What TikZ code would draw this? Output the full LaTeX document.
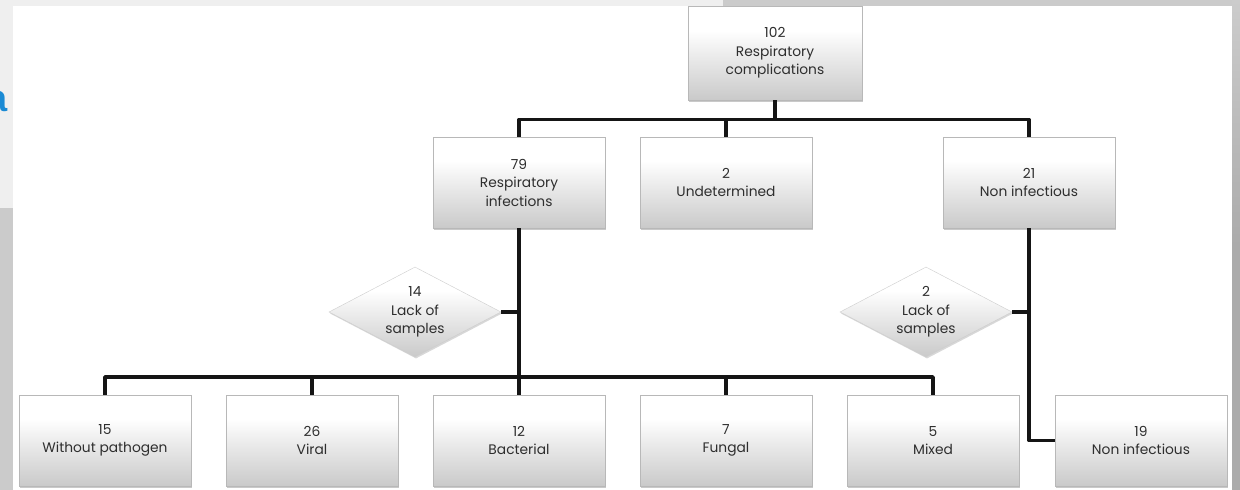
\documentclass[tikz,border=0pt]{standalone}
\usepackage{fontspec}
\setmainfont{Poppins}
\newfontfamily\labelfont{Liberation Sans}
\usetikzlibrary{shapes.geometric,shadows}
\definecolor{txt}{HTML}{2E2E2E}
\definecolor{bord}{HTML}{B8B8B8}
\definecolor{lightstrip}{HTML}{EFEFEF}
\definecolor{darkstrip}{HTML}{CBCBCB}
\definecolor{rightstrip}{HTML}{ABABAB}
\definecolor{bluea}{HTML}{1A8AD4}
\definecolor{linec}{HTML}{151515}
\pgfdeclareverticalshading{boxshade}{100bp}{color(0bp)=(black!26); color(25bp)=(black!21); color(50bp)=(black!7); color(62bp)=(white); color(100bp)=(white)}
\tikzset{
  boxnode/.style={rectangle, draw=bord, line width=0.6pt, shading=boxshade,
    minimum width=172pt, minimum height=91pt, inner sep=0pt, align=center,
    text=txt, font=\fontsize{13.8}{18.5}\selectfont,
    drop shadow={shadow xshift=1.2pt, shadow yshift=-1.8pt, opacity=0.35, fill=black!60}},
  diamnode/.style={diamond, draw=bord!70, line width=0.4pt, shading=boxshade,
    shape aspect=1.9, minimum width=172pt, minimum height=90pt, inner sep=0pt, align=center,
    text=txt, font=\fontsize{13.8}{18.5}\selectfont,
    drop shadow={shadow xshift=1pt, shadow yshift=-1.5pt, opacity=0.25, fill=black!60}},
  conn/.style={draw=linec, line width=3.6pt, line join=round}
}
\begin{document}
\begin{tikzpicture}[x=1pt,y=-1pt]
\useasboundingbox (0,0) rectangle (1240,490);
% background
\fill[white] (0,0) rectangle (1240,490);
\fill[lightstrip] (0,0) rectangle (13,208);
\fill[darkstrip] (0,208) rectangle (13,490);
\fill[lightstrip] (0,0) rectangle (723,6);
\fill[darkstrip] (723,0) rectangle (1232,6);
\shade[top color=black!20, bottom color=rightstrip, middle color=rightstrip] (1232,0) rectangle (1240,490);
\node[anchor=east, text=bluea, font=\labelfont\fontsize{38}{38}\selectfont\bfseries, inner sep=0pt] (bluea) at (7.5,101) {a};
% nodes
\node[boxnode, minimum width=174pt, minimum height=94pt] (top) at (775,53) {102\\Respiratory\\complications};
\node[boxnode] (ri) at (519,182.5) {79\\Respiratory\\infections};
\node[boxnode] (und) at (726,182.5) {2\\Undetermined};
\node[boxnode] (ni) at (1029,182.5) {21\\Non infectious};
\node[diamnode] (lk1) at (415,312) {14\\Lack of\\samples};
\node[diamnode] (lk2) at (926,312) {2\\Lack of\\samples};
\node[boxnode] (wp) at (105,440.5) {15\\Without pathogen};
\node[boxnode] (vir) at (312,440.5) {26\\Viral};
\node[boxnode] (bac) at (519,440.5) {12\\Bacterial};
\node[boxnode] (fun) at (726,440.5) {7\\Fungal};
\node[boxnode] (mix) at (933,440.5) {5\\Mixed};
\node[boxnode] (ni2) at (1141,440.5) {19\\Non infectious};
% connectors
\coordinate (h2) at (775,119.5);
\coordinate (h3) at (519,377);
\draw[conn] (top.south) -- (h2);
\draw[conn] (ri.north) -- (ri.north |- h2) -- (ni.north |- h2) -- (ni.north);
\draw[conn] (und.north) -- (und.north |- h2);
\draw[conn] (ri.south) -- (bac.north);
\draw[conn] (wp.north) -- (wp.north |- h3) -- (mix.north |- h3) -- (mix.north);
\draw[conn] (vir.north) -- (vir.north |- h3);
\draw[conn] (fun.north) -- (fun.north |- h3);
\draw[conn] (lk1.east) -- (lk1.east -| ri.south);
\draw[conn] (ni.south) |- (ni2.west);
\draw[conn] (lk2.east) -- (lk2.east -| ni.south);
\end{tikzpicture}
\end{document}
